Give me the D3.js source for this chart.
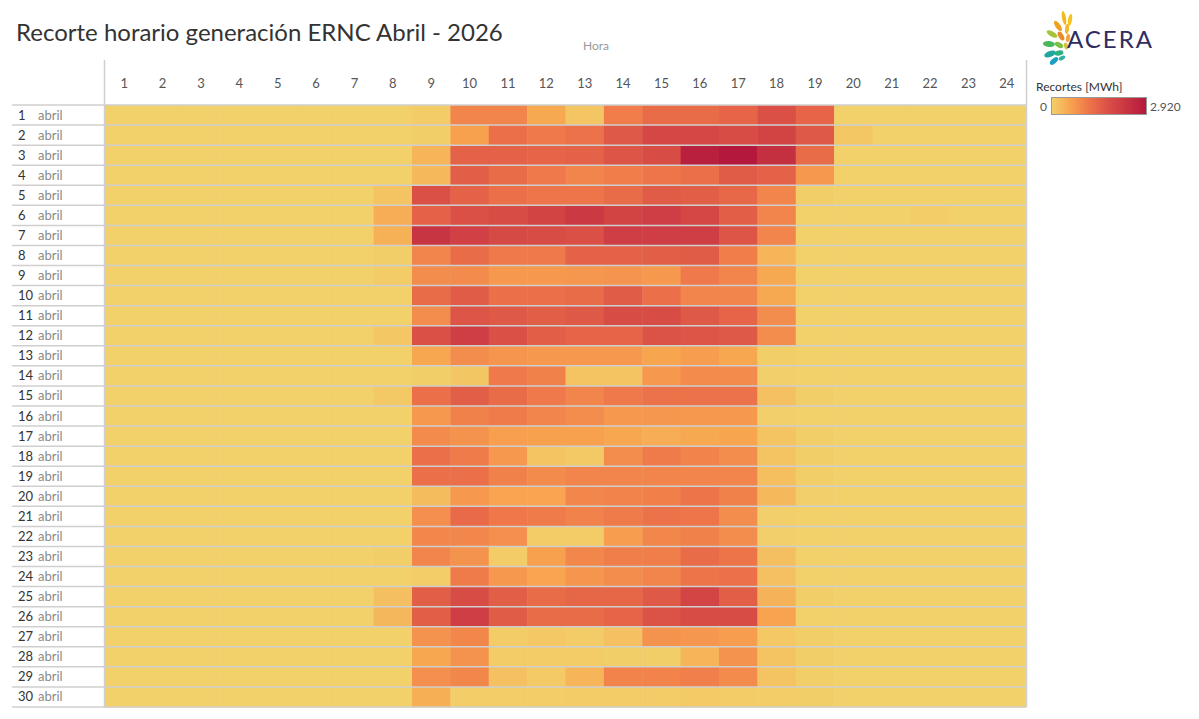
<!DOCTYPE html>
<html>
<head>
<meta charset="utf-8">
<script src="https://cdn.jsdelivr.net/npm/d3@7"></script>
<style>
  body { margin: 0; background: #fff; }
  svg { display: block; font-family: Lato, "Open Sans", sans-serif; }
</style>
</head>
<body>
<div id="chart"></div>
<script>
// Horas del día (columnas) y días de abril (filas)
const hours = d3.range(1, 25);
const days = d3.range(1, 31);
const monthName = "abril";

// Recortes [MWh] por día (fila) y hora (columna 1..24)
const recortes = [
  [0,0,0,0,0,0,0,0,60,950,950,500,140,1050,1300,1300,1400,1750,1400,0,0,0,0,0],
  [0,0,0,0,0,0,0,0,30,600,1250,1100,1200,1600,1900,1900,1800,2000,1600,120,0,0,0,0],
  [0,0,0,0,0,0,0,0,350,1450,1450,1400,1450,1650,1800,2750,2920,2400,1300,0,0,0,0,0],
  [0,0,0,0,0,0,0,0,300,1500,1300,1100,950,1050,1150,1250,1550,1450,700,0,0,0,0,0],
  [0,0,0,0,0,0,0,150,1750,1450,1250,1150,1150,1300,1550,1500,1350,950,20,0,0,0,0,0],
  [0,0,0,0,0,0,0,450,1450,1750,1800,2000,2200,2000,2100,1900,1500,950,0,0,0,40,0,0],
  [0,0,0,0,0,0,0,400,2300,2050,1850,1800,1750,2100,2100,2100,1650,950,0,0,0,0,0,0],
  [0,0,0,0,0,0,0,20,950,1300,1100,1100,1450,1450,1500,1550,1050,350,0,0,0,0,0,0],
  [0,0,0,0,0,0,0,70,850,880,700,700,720,760,700,1100,950,500,0,0,0,0,0,0],
  [0,0,0,0,0,0,0,0,1300,1550,1250,1250,1300,1550,1250,950,950,500,0,0,0,0,0,0],
  [0,0,0,0,0,0,0,0,850,1650,1600,1500,1600,1800,1800,1600,1400,850,0,0,0,0,0,0],
  [0,0,0,0,0,0,0,120,1750,2100,1750,1500,1400,1400,1700,1650,1600,850,0,0,0,0,0,0],
  [0,0,0,0,0,0,0,0,520,850,750,700,700,700,550,650,530,20,0,0,0,0,0,0],
  [0,0,0,0,0,0,0,0,30,130,1100,1000,150,150,700,870,870,10,0,0,0,0,0,0],
  [0,0,0,0,0,0,0,90,1250,1500,1300,1100,950,1100,1200,1200,1200,200,20,0,0,0,0,0],
  [0,0,0,0,0,0,0,0,700,1000,1080,950,850,700,720,700,700,10,0,0,0,0,0,0],
  [0,0,0,0,0,0,0,0,880,770,620,600,600,520,450,500,550,170,20,0,0,0,0,0],
  [0,0,0,0,0,0,0,0,1250,1080,700,150,90,850,1080,970,850,150,20,0,0,0,0,0],
  [0,0,0,0,0,0,0,0,1250,1250,1000,880,950,950,950,950,950,230,20,0,0,0,0,0],
  [0,0,0,0,0,0,0,0,250,700,560,560,930,970,1030,1180,1000,300,10,0,0,0,0,0],
  [0,0,0,0,0,0,0,0,820,1330,1120,1080,990,1070,1200,1150,850,10,0,0,0,0,0,0],
  [0,0,0,0,0,0,0,0,930,930,820,60,60,650,930,1000,850,10,0,0,0,0,0,0],
  [0,0,0,0,0,0,0,30,950,770,50,600,930,1040,1040,1300,1170,220,0,0,0,0,0,0],
  [0,0,0,0,0,0,0,0,40,1070,700,560,750,850,950,1180,1220,200,0,0,0,0,0,0],
  [0,0,0,0,0,0,0,220,1500,1800,1500,1300,1380,1380,1600,1950,1500,380,20,0,0,0,0,0],
  [0,0,0,0,0,0,0,320,1500,2100,1550,1300,1300,1400,1700,1800,1800,580,0,0,0,0,0,0],
  [0,0,0,0,0,0,0,0,770,930,50,100,70,200,770,720,650,100,30,0,0,0,0,0],
  [0,0,0,0,0,0,0,0,520,770,50,50,50,30,30,350,770,150,30,0,0,0,0,0],
  [0,0,0,0,0,0,0,0,820,930,200,80,350,970,970,1020,870,150,30,0,0,0,0,0],
  [0,0,0,0,0,0,0,0,420,40,40,40,50,60,70,80,60,40,30,0,0,0,0,0]
];
const maxRecorte = 2920;

const cells = [];
days.forEach((d, i) => hours.forEach((h, j) => cells.push({ day: d, hour: h, value: recortes[i][j] })));

const width = 1199, height = 719;
const margin = { top: 105, left: 105, right: 173, bottom: 12 };

const svg = d3.select("#chart").append("svg")
  .attr("width", width)
  .attr("height", height);

const x = d3.scaleBand().domain(hours).range([margin.left, width - margin.right]);
const y = d3.scaleBand().domain(days).range([margin.top, height - margin.bottom]);

const color = d3.scaleLinear()
  .domain([0, 550, 1150, 1800, maxRecorte])
  .range(["#f2d06a", "#f8a550", "#ee7549", "#d84c46", "#b4183d"])
  .interpolate(d3.interpolateRgb)
  .clamp(true);

// Title
svg.append("text")
  .attr("x", 16).attr("y", 41)
  .attr("font-size", 24)
  .attr("fill", "#333")
  .text("Recorte horario generación ERNC Abril - 2026");

// Axis title
svg.append("text")
  .attr("x", 596).attr("y", 50)
  .attr("text-anchor", "middle")
  .attr("font-size", 12)
  .attr("fill", "#999")
  .text("Hora");

// Cells
svg.append("g")
  .selectAll("rect")
  .data(cells)
  .join("rect")
  .attr("x", d => x(d.hour))
  .attr("y", d => y(d.day))
  .attr("width", x.bandwidth() + 0.5)
  .attr("height", y.bandwidth() + 0.5)
  .attr("fill", d => color(d.value));

// Column headers
svg.append("g")
  .selectAll("text")
  .data(hours)
  .join("text")
  .attr("x", d => x(d) + x.bandwidth() / 2)
  .attr("y", 88)
  .attr("text-anchor", "middle")
  .attr("font-size", 13)
  .attr("fill", "#555")
  .text(d => d);

// Row separators
svg.append("g")
  .selectAll("line")
  .data(days.concat([null]))
  .join("line")
  .attr("x1", 12)
  .attr("x2", width - margin.right)
  .attr("y1", (d, i) => i < days.length ? y(d) : y.range()[1])
  .attr("y2", (d, i) => i < days.length ? y(d) : y.range()[1])
  .attr("stroke", "#cfcfcf")
  .attr("stroke-width", 1.5);

// Vertical borders
[margin.left - 0.5, width - margin.right + 0.5].forEach(px => {
  svg.append("line")
    .attr("x1", px).attr("x2", px)
    .attr("y1", 60).attr("y2", y.range()[1])
    .attr("stroke", "#cfcfcf")
    .attr("stroke-width", 1.5);
});

// Row labels
const rowLab = svg.append("g")
  .selectAll("g")
  .data(days)
  .join("g")
  .attr("transform", d => `translate(0,${y(d) + y.bandwidth() / 2 + 4.5})`);
rowLab.append("text")
  .attr("x", 18)
  .attr("font-size", 13)
  .attr("fill", "#333")
  .text(d => d);
rowLab.append("text")
  .attr("x", 38)
  .attr("font-size", 13)
  .attr("fill", "#8a8a8a")
  .text(monthName);

// Logo
const logo = svg.append("g").attr("transform", "translate(1040,12)");
const petals = [
  { cx: 24, cy: 6, rx: 2, ry: 7, r: -10, c: "#f3b81d" },
  { cx: 30, cy: 8, rx: 2, ry: 6, r: 10, c: "#f7c31c" },
  { cx: 18, cy: 14, rx: 2.5, ry: 6, r: -35, c: "#f0a21f" },
  { cx: 27, cy: 17, rx: 2, ry: 5, r: 5, c: "#f6b92a" },
  { cx: 12, cy: 22, rx: 2.5, ry: 6, r: -60, c: "#a6c43a" },
  { cx: 21, cy: 24, rx: 2.5, ry: 5, r: -30, c: "#e98a2c" },
  { cx: 28, cy: 26, rx: 2, ry: 4, r: 10, c: "#f2a53a" },
  { cx: 9, cy: 32, rx: 3, ry: 6, r: -85, c: "#48b85a" },
  { cx: 19, cy: 33, rx: 2.5, ry: 4.5, r: -60, c: "#7cbf44" },
  { cx: 26, cy: 34, rx: 2, ry: 3.5, r: -20, c: "#d2c13a" },
  { cx: 10, cy: 42, rx: 3, ry: 6, r: -110, c: "#1fa7a0" },
  { cx: 19, cy: 41, rx: 2.5, ry: 4.5, r: -100, c: "#2bb07e" },
  { cx: 14, cy: 49, rx: 2.5, ry: 5, r: -130, c: "#1d9fc0" },
  { cx: 22, cy: 46, rx: 2, ry: 3.5, r: -120, c: "#32b0a2" }
];
logo.selectAll("ellipse")
  .data(petals)
  .join("ellipse")
  .attr("cx", d => d.cx).attr("cy", d => d.cy)
  .attr("rx", d => d.rx).attr("ry", d => d.ry)
  .attr("transform", d => `rotate(${d.r},${d.cx},${d.cy})`)
  .attr("fill", d => d.c);
svg.append("text")
  .attr("x", 1067).attr("y", 48)
  .attr("font-size", 24)
  .attr("letter-spacing", 2)
  .attr("fill", "#2f2c62")
  .text("ACERA");

// Legend
const defs = svg.append("defs");
const grad = defs.append("linearGradient").attr("id", "legGrad");
d3.range(0, 1.0001, 0.05).forEach(t => {
  grad.append("stop")
    .attr("offset", `${t * 100}%`)
    .attr("stop-color", color(t * maxRecorte));
});
svg.append("text")
  .attr("x", 1036).attr("y", 91)
  .attr("font-size", 12)
  .attr("fill", "#333")
  .text("Recortes [MWh]");
svg.append("rect")
  .attr("x", 1051.5).attr("y", 97.5)
  .attr("width", 95).attr("height", 17)
  .attr("fill", "url(#legGrad)")
  .attr("stroke", "#999");
svg.append("text")
  .attr("x", 1040).attr("y", 111)
  .attr("font-size", 12)
  .attr("fill", "#555")
  .text("0");
svg.append("text")
  .attr("x", 1150).attr("y", 111)
  .attr("font-size", 12)
  .attr("fill", "#555")
  .text(d3.format(",")(maxRecorte).replace(",", "."));
</script>
</body>
</html>
